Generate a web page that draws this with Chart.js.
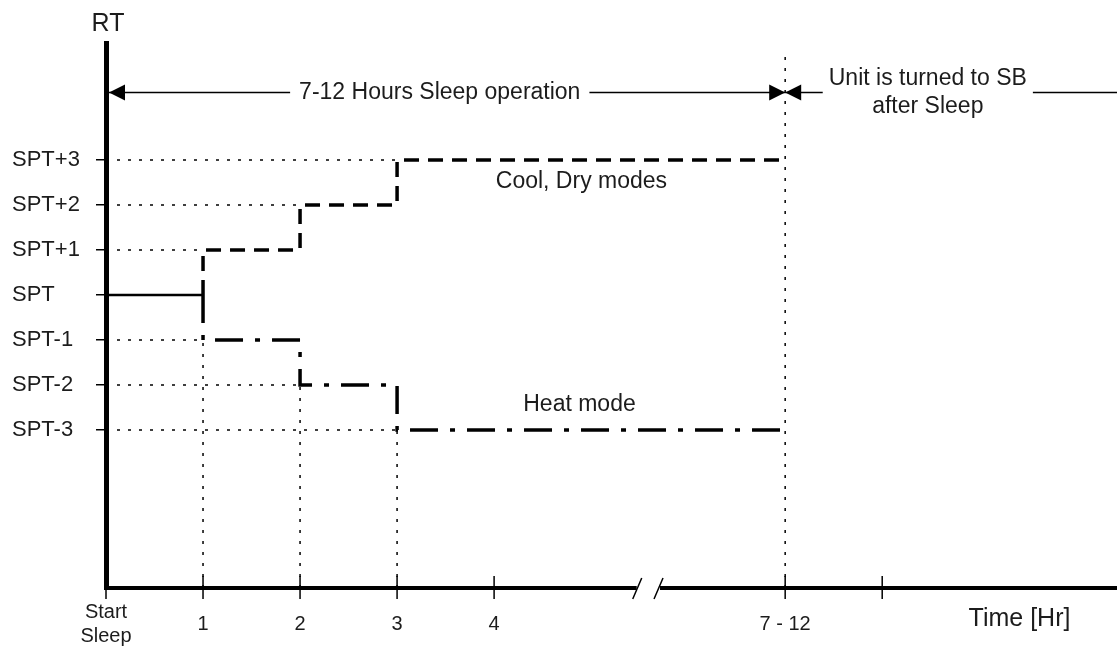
<!DOCTYPE html>
<html>
<head>
<meta charset="utf-8">
<title>Sleep operation</title>
<script src="https://cdn.jsdelivr.net/npm/chart.js@4.4.1/dist/chart.umd.min.js"></script>
<style>
body{margin:0;background:#fff;}
#wrap{width:1117px;height:647px;position:relative;}
</style>
</head>
<body>
<div id="wrap"><canvas id="sleepChart"></canvas></div>
<script>
// Sleep mode room temperature profile

const levelValues = [3, 2, 1, 0, -1, -2, -3];
const levelLabels = ["SPT+3", "SPT+2", "SPT+1", "SPT", "SPT-1", "SPT-2", "SPT-3"];

const hourTicks = [0, 1, 2, 3, 4, 7, 8];
const hourLabels = [["Start", "Sleep"], "1", "2", "3", "4", "7 - 12", ""];

const stepHours = [1, 2, 3];
const coolLevels = [1, 2, 3];
const heatLevels = [-1, -2, -3];
const sleepEnd = 7;
const standbyEnd = 10.42;

const xRange = [0, 10.42];
const yRange = [-6.51, 5.6];
const axisBreak = [5.47, 5.71];
const spanY = 4.5;
const guideTop = 5.33;

const FONT = "'Liberation Sans', Arial, sans-serif";
const TEXT = "#1c1c1c";

function stepData(levels){
let pts = [{x:stepHours[0], y:0}];
stepHours.forEach(function(h, i){ pts.push({x:h, y:levels[i]}); });
pts.push({x:sleepEnd, y:levels[levels.length-1]});
return pts;
}

function guide(points){
return {
data:points,
borderColor:"#000",
borderWidth:1.5,
borderDash:[3,8],
pointRadius:0
};
}

let datasets = [];

// dotted guides to the steps
stepHours.forEach(function(h, i){
datasets.push(guide([{x:0, y:coolLevels[i]}, {x:h, y:coolLevels[i]}]));
datasets.push(guide([{x:0, y:heatLevels[i]}, {x:h, y:heatLevels[i]}]));
datasets.push(guide([{x:h, y:yRange[0]}, {x:h, y:heatLevels[i]}]));
});
datasets.push(guide([{x:sleepEnd, y:yRange[0]}, {x:sleepEnd, y:guideTop}]));

// span lines
datasets.push({data:[{x:0, y:spanY}, {x:sleepEnd, y:spanY}], borderColor:"#000", borderWidth:1.5, pointRadius:0});
datasets.push({data:[{x:sleepEnd, y:spanY}, {x:standbyEnd, y:spanY}], borderColor:"#000", borderWidth:1.5, pointRadius:0});

// SPT, cool and heat lines
datasets.push({data:[{x:0, y:0}, {x:stepHours[0], y:0}], borderColor:"#000", borderWidth:2.5, pointRadius:0});
datasets.push({data:stepData(coolLevels), stepped:"before", borderColor:"#000", borderWidth:3.5, borderDash:[15,9], pointRadius:0});
datasets.push({data:stepData(heatLevels), stepped:"before", borderColor:"#000", borderWidth:3.5, borderDash:[28,12,5,12], pointRadius:0});

function arrowHead(ctx, x, y, dir){
ctx.beginPath();
ctx.moveTo(x, y);
ctx.lineTo(x + dir*16, y - 8);
ctx.lineTo(x + dir*16, y + 8);
ctx.closePath();
ctx.fill();
}

function noteText(ctx, lines, x, y, pad){
ctx.font = "23px " + FONT;
let w = 0;
lines.forEach(function(l){ w = Math.max(w, ctx.measureText(l).width); });
ctx.fillStyle = "#fff";
ctx.fillRect(x - w/2 - pad, y - 12, w + pad*2, 24);
ctx.fillStyle = TEXT;
ctx.textAlign = "center";
ctx.textBaseline = "middle";
lines.forEach(function(l, i){ ctx.fillText(l, x, y + i*28 - (lines.length-1)*14); });
}

const extras = {
id:"extras",
afterDraw:function(chart){
const ctx = chart.ctx;
const xs = chart.scales.x;
const ys = chart.scales.y;
const axisY = chart.chartArea.bottom;
ctx.save();

// tick crosses on the time axis
ctx.strokeStyle = "#000";
ctx.lineWidth = 1.5;
hourTicks.forEach(function(v){
const px = xs.getPixelForValue(v);
ctx.beginPath();
ctx.moveTo(px, axisY - 12);
ctx.lineTo(px, axisY + 11);
ctx.stroke();
});

// axis break
const b0 = xs.getPixelForValue(axisBreak[0]);
const b1 = xs.getPixelForValue(axisBreak[1]);
ctx.fillStyle = "#fff";
ctx.fillRect(b0, axisY - 4, b1 - b0, 8);
ctx.beginPath();
ctx.moveTo(b0 - 4, axisY + 11); ctx.lineTo(b0 + 5, axisY - 10);
ctx.moveTo(b1 - 6, axisY + 11); ctx.lineTo(b1 + 3, axisY - 10);
ctx.stroke();

// arrow heads
const sy = ys.getPixelForValue(spanY);
const x0 = xs.getPixelForValue(0) + 3;
const x7 = xs.getPixelForValue(sleepEnd);
ctx.fillStyle = "#000";
arrowHead(ctx, x0, sy, 1);
arrowHead(ctx, x7, sy, -1);
arrowHead(ctx, x7, sy, 1);

// span notes
noteText(ctx, ["7-12 Hours Sleep operation"], xs.getPixelForValue(3.44), sy, 9);
noteText(ctx, ["Unit is turned to SB", "after Sleep"], xs.getPixelForValue(8.47), sy, 6);

// mode notes
ctx.font = "23px " + FONT;
ctx.fillStyle = TEXT;
ctx.textAlign = "center";
ctx.textBaseline = "middle";
ctx.fillText("Cool, Dry modes", xs.getPixelForValue(4.9), ys.getPixelForValue(2.51));
ctx.fillText("Heat mode", xs.getPixelForValue(4.88), ys.getPixelForValue(-2.44));

// axis names
ctx.font = "25px " + FONT;
ctx.fillText("RT", xs.getPixelForValue(0) + 2, chart.chartArea.top - 19);
ctx.textAlign = "right";
ctx.fillText("Time [Hr]", xs.getPixelForValue(9.94), axisY + 31);
ctx.restore();
}
};

new Chart(document.getElementById("sleepChart"),{
type:"line",
data:{datasets:datasets},
options:{
responsive:true,
maintainAspectRatio:false,
animation:false,
layout:{padding:{left:12, top:43, right:0, bottom:0}},
plugins:{legend:{display:false}, tooltip:{enabled:false}},
scales:{
x:{
type:"linear",
min:xRange[0],
max:xRange[1],
afterFit:function(scale){ scale.height = 59; },
afterBuildTicks:function(scale){ scale.ticks = hourTicks.map(function(v){ return {value:v}; }); },
grid:{display:false, drawTicks:false},
border:{display:true, color:"#000", width:4},
ticks:{
padding:24,
crossAlign:"center",
maxRotation:0,
autoSkip:false,
color:TEXT,
font:{family:FONT, size:20},
callback:function(v, i){ return hourLabels[i]; }
}
},
y:{
type:"linear",
min:yRange[0],
max:yRange[1],
afterFit:function(scale){ scale.width = 94; },
afterBuildTicks:function(scale){ scale.ticks = levelValues.map(function(v){ return {value:v}; }); },
grid:{display:true, drawOnChartArea:false, drawTicks:true, tickLength:10, color:"#000", lineWidth:1.5},
border:{display:true, color:"#000", width:5},
ticks:{
crossAlign:"far",
autoSkip:false,
color:TEXT,
font:{family:FONT, size:22},
callback:function(v, i){ return levelLabels[i]; }
}
}
}
},
plugins:[extras]
});
</script>
</body>
</html>
